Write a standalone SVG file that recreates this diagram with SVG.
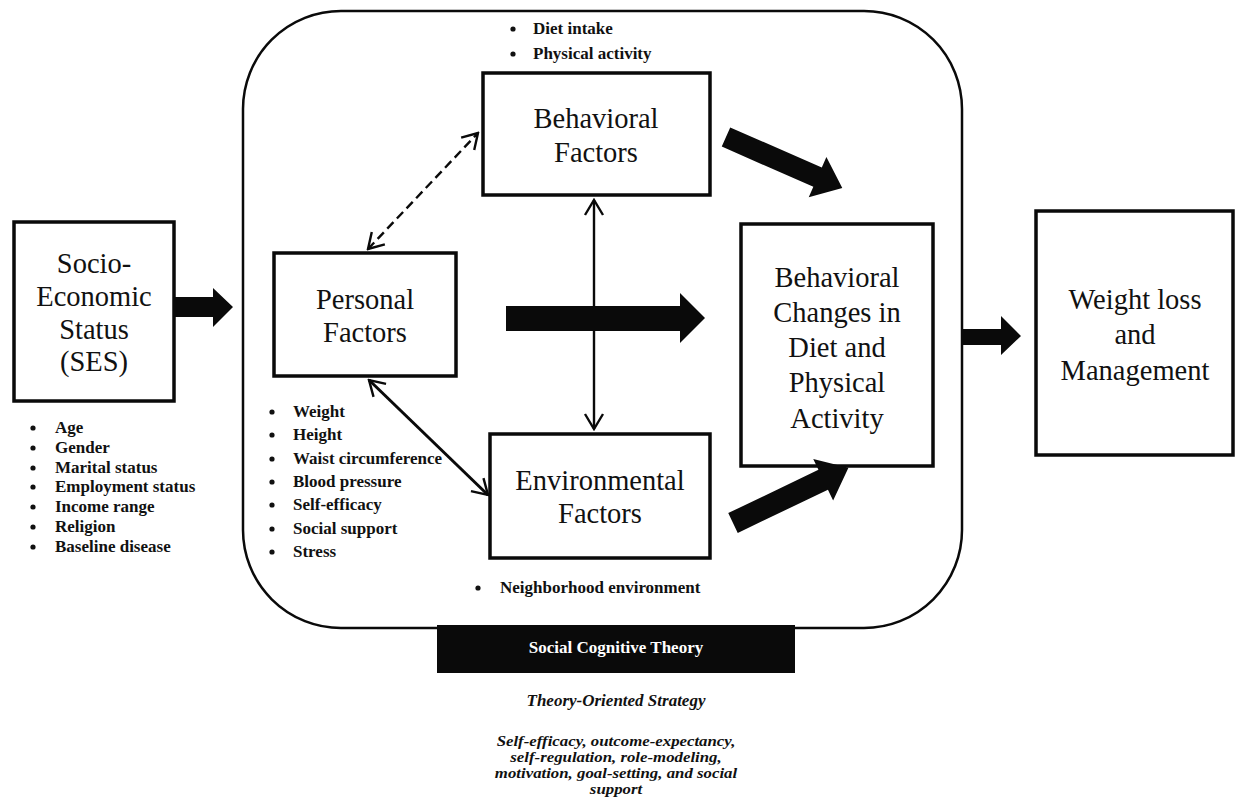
<svg xmlns="http://www.w3.org/2000/svg" width="1238" height="805" viewBox="0 0 1238 805">
<style>
.box{fill:#fff;stroke:#0a0a0a;stroke-width:3.5}
.big{font-family:"Liberation Serif","Times New Roman",serif;font-size:28.5px;fill:#111;text-anchor:middle}
.bul{font-family:"Liberation Serif","Times New Roman",serif;font-size:17px;font-weight:bold;fill:#111}
.dot{fill:#111}
.fat{fill:#0a0a0a}
.thin{fill:none;stroke:#0a0a0a;stroke-width:2.4;marker-start:url(#chev);marker-end:url(#chev)}
.ital{font-family:"Liberation Serif","Times New Roman",serif;font-size:17px;font-weight:bold;font-style:italic;fill:#111;text-anchor:middle}
.ital-s{font-family:"Liberation Serif","Times New Roman",serif;font-size:14.5px;font-weight:bold;font-style:italic;fill:#111;text-anchor:middle}
</style>
<defs>
<marker id="chev" viewBox="-18 -11 20 22" refX="0" refY="0" markerWidth="20" markerHeight="22" markerUnits="userSpaceOnUse" orient="auto-start-reverse">
<path d="M-15,-9 L0,0 L-15,9" fill="none" stroke="#0a0a0a" stroke-width="2.4"/>
</marker>
</defs>
<rect width="1238" height="805" fill="#fff"/>

<g id="sct-frame">
<rect x="243" y="11" width="719" height="617" rx="98" ry="98" fill="none" stroke="#0a0a0a" stroke-width="2.5"/>
<rect x="437" y="625" width="358" height="48" fill="#0a0a0a"/>
<text x="616" y="653" text-anchor="middle" font-family="Liberation Serif, Times New Roman, serif" font-size="17" font-weight="bold" fill="#fff">Social Cognitive Theory</text>
</g>

<g id="strategy">
<text class="ital" x="616" y="706">Theory-Oriented Strategy</text>
<g transform="translate(616,0) scale(1.16,1)">
<text class="ital-s" x="0" y="746">Self-efficacy, outcome-expectancy,</text>
<text class="ital-s" x="0" y="762">self-regulation, role-modeling,</text>
<text class="ital-s" x="0" y="778">motivation, goal-setting, and social</text>
<text class="ital-s" x="0" y="794">support</text>
</g>
</g>

<g id="ses">
<rect class="box" x="14" y="222" width="160" height="179"/>
<text class="big" x="94" y="273">Socio-</text>
<text class="big" x="94" y="306">Economic</text>
<text class="big" x="94" y="339">Status</text>
<text class="big" x="94" y="371">(SES)</text>
<g class="bul">
<circle class="dot" cx="33" cy="428" r="2.6"/><text x="55" y="433">Age</text>
<circle class="dot" cx="33" cy="448" r="2.6"/><text x="55" y="453">Gender</text>
<circle class="dot" cx="33" cy="468" r="2.6"/><text x="55" y="473">Marital status</text>
<circle class="dot" cx="33" cy="487" r="2.6"/><text x="55" y="492">Employment status</text>
<circle class="dot" cx="33" cy="507" r="2.6"/><text x="55" y="512">Income range</text>
<circle class="dot" cx="33" cy="527" r="2.6"/><text x="55" y="532">Religion</text>
<circle class="dot" cx="33" cy="547" r="2.6"/><text x="55" y="552">Baseline disease</text>
</g>
</g>

<g id="behavioral-factors">
<rect class="box" x="483" y="73" width="227" height="122"/>
<text class="big" x="596" y="128">Behavioral</text>
<text class="big" x="596" y="162">Factors</text>
<g class="bul">
<circle class="dot" cx="513" cy="29" r="2.6"/><text x="533" y="34">Diet intake</text>
<circle class="dot" cx="513" cy="54" r="2.6"/><text x="533" y="59">Physical activity</text>
</g>
</g>

<g id="personal-factors">
<rect class="box" x="274" y="253" width="182" height="123"/>
<text class="big" x="365" y="309">Personal</text>
<text class="big" x="365" y="342">Factors</text>
<g class="bul">
<circle class="dot" cx="272" cy="412" r="2.6"/><text x="293" y="417">Weight</text>
<circle class="dot" cx="272" cy="435" r="2.6"/><text x="293" y="440">Height</text>
<circle class="dot" cx="272" cy="459" r="2.6"/><text x="293" y="464">Waist circumference</text>
<circle class="dot" cx="272" cy="482" r="2.6"/><text x="293" y="487">Blood pressure</text>
<circle class="dot" cx="272" cy="505" r="2.6"/><text x="293" y="510">Self-efficacy</text>
<circle class="dot" cx="272" cy="529" r="2.6"/><text x="293" y="534">Social support</text>
<circle class="dot" cx="272" cy="552" r="2.6"/><text x="293" y="557">Stress</text>
</g>
</g>

<g id="environmental-factors">
<rect class="box" x="490" y="434" width="220" height="124"/>
<text class="big" x="600" y="490">Environmental</text>
<text class="big" x="600" y="523">Factors</text>
<g class="bul">
<circle class="dot" cx="478" cy="588" r="2.6"/><text x="500" y="593">Neighborhood environment</text>
</g>
</g>

<g id="behavioral-changes">
<rect class="box" x="741" y="224" width="192" height="242"/>
<text class="big" x="837" y="287">Behavioral</text>
<text class="big" x="837" y="322">Changes in</text>
<text class="big" x="837" y="357">Diet and</text>
<text class="big" x="837" y="392">Physical</text>
<text class="big" x="837" y="428">Activity</text>
</g>

<g id="weight-loss">
<rect class="box" x="1036" y="211" width="197" height="244"/>
<text class="big" x="1135" y="309">Weight loss</text>
<text class="big" x="1135" y="344">and</text>
<text class="big" x="1135" y="380">Management</text>
</g>

<g id="connectors">
<path class="fat" d="M175,297 L213,297 L213,288 L233,307 L213,327 L213,317 L175,317 Z"/>
<path class="fat" d="M962,329 L1001,329 L1001,316 L1021,336 L1001,355 L1001,345 L962,345 Z"/>
<path class="fat" d="M506,306 L680,306 L680,293 L705,318 L680,343 L680,331 L506,331 Z"/>
<path class="fat" transform="translate(726,137) rotate(23.7)" d="M0,-10.5 L100,-10.5 L100,-22 L127,0 L100,22 L100,10.5 L0,10.5 Z"/>
<path class="fat" transform="translate(733,523) rotate(-25.6)" d="M0,-11 L100,-11 L100,-23 L128,0 L100,23 L100,11 L0,11 Z"/>
<line class="thin" x1="594" y1="200" x2="594" y2="429"/>
<line class="thin" x1="368" y1="249" x2="478" y2="133" stroke-dasharray="9 5"/>
<line class="thin" x1="369" y1="380" x2="488" y2="495" style="stroke-width:3"/>
</g>
</svg>
